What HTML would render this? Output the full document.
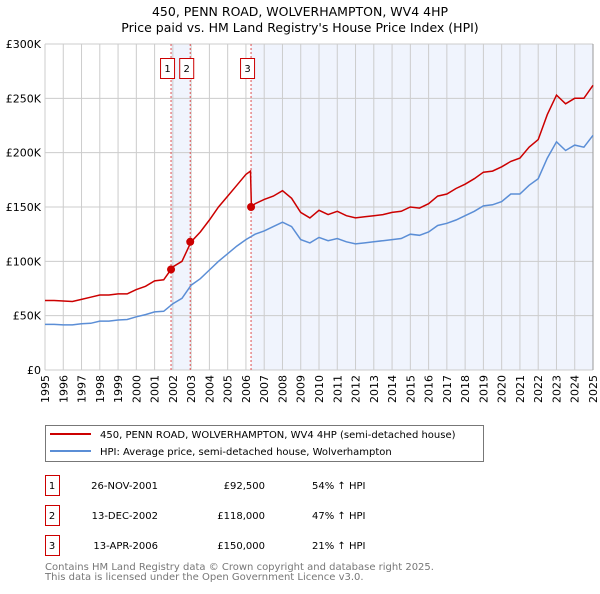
<!DOCTYPE html>
<html><head><meta charset="utf-8"><style>
body{margin:0;background:#fff;font-family:"DejaVu Sans","Liberation Sans",sans-serif;}
svg text{font-family:"DejaVu Sans","Liberation Sans",sans-serif;}
</style></head><body>
<svg id="c" width="600" height="590" xmlns="http://www.w3.org/2000/svg">
<text x="300" y="16" text-anchor="middle" font-size="12.5">450, PENN ROAD, WOLVERHAMPTON, WV4 4HP</text>
<text x="300" y="32" text-anchor="middle" font-size="12.5">Price paid vs. HM Land Registry's House Price Index (HPI)</text>
<g id="plot"></g>
<g>
<rect x="45.5" y="425.5" width="438" height="36" fill="#fff" stroke="#777"/>
<line x1="50" y1="434" x2="91" y2="434" stroke="#cc0000" stroke-width="2"/>
<text x="100" y="438" font-size="10">450, PENN ROAD, WOLVERHAMPTON, WV4 4HP (semi-detached house)</text>
<line x1="50" y1="451" x2="91" y2="451" stroke="#5b8ed6" stroke-width="2"/>
<text x="100" y="455" font-size="10">HPI: Average price, semi-detached house, Wolverhampton</text>
</g>
<g id="table" font-size="10"></g>
<text x="45" y="570" font-size="10" fill="#777">Contains HM Land Registry data © Crown copyright and database right 2025.</text>
<text x="45" y="580" font-size="10" fill="#777">This data is licensed under the Open Government Licence v3.0.</text>
</svg>
<script>
const hpiYears=[1995,1995.5,1996,1996.5,1997,1997.5,1998,1998.5,1999,1999.5,2000,2000.5,2001,2001.5,2002,2002.5,2003,2003.5,2004,2004.5,2005,2005.5,2006,2006.5,2007,2007.5,2008,2008.5,2009,2009.5,2010,2010.5,2011,2011.5,2012,2012.5,2013,2013.5,2014,2014.5,2015,2015.5,2016,2016.5,2017,2017.5,2018,2018.5,2019,2019.5,2020,2020.5,2021,2021.5,2022,2022.5,2023,2023.5,2024,2024.5,2025];
const hpiValues=[42,42,41.5,41.5,42.5,43,45,45,46,46.5,49,51,53.5,54,61,66,78,84,92,100,107,114,120,125,128,132,136,132,120,117,122,119,121,118,116,117,118,119,120,121,125,124,127,133,135,138,142,146,151,152,155,162,162,170,176,195,210,202,207,205,216];
const redYears=[1995,1995.5,1996,1996.5,1997,1997.5,1998,1998.5,1999,1999.5,2000,2000.5,2001,2001.5,2002,2002.5,2003,2003.5,2004,2004.5,2005,2005.5,2006,2006.25,2006.3,2006.5,2007,2007.5,2008,2008.5,2009,2009.5,2010,2010.5,2011,2011.5,2012,2012.5,2013,2013.5,2014,2014.5,2015,2015.5,2016,2016.5,2017,2017.5,2018,2018.5,2019,2019.5,2020,2020.5,2021,2021.5,2022,2022.5,2023,2023.5,2024,2024.5,2025];
const redValues=[64,64,63.5,63,65,67,69,69,70,70,74,77,82,83,95,100,118,127,138,150,160,170,180,183,150,153,157,160,165,158,145,140,147,143,146,142,140,141,142,143,145,146,150,149,153,160,162,167,171,176,182,183,187,192,195,205,212,235,253,245,250,250,262];
const saleLabels=["1","2","3"];
const saleYears=[2001.9,2002.95,2006.28];
const salePrices=[92.5,118,150];
const saleDates=["26-NOV-2001","13-DEC-2002","13-APR-2006"];
const salePriceText=["£92,500","£118,000","£150,000"];
const saleHpiText=["54% ↑ HPI","47% ↑ HPI","21% ↑ HPI"];
const yTicks=[0,50,100,150,200,250,300];
const yTickLabels=["£0","£50K","£100K","£150K","£200K","£250K","£300K"];
const xTicks=[1995,1996,1997,1998,1999,2000,2001,2002,2003,2004,2005,2006,2007,2008,2009,2010,2011,2012,2013,2014,2015,2016,2017,2018,2019,2020,2021,2022,2023,2024,2025];

const NS="http://www.w3.org/2000/svg";
const X0=45,X1=593,Y0=370,Y1=44;
const xs=y=>X0+(y-1995)/30*(X1-X0);
const ys=v=>Y0-v/300*(Y0-Y1);
const plot=document.getElementById('plot');
function mk(t,a,p){const e=document.createElementNS(NS,t);for(const k in a)e.setAttribute(k,a[k]);(p||plot).appendChild(e);return e;}
let s1=mk('rect',{x:xs(saleYears[0]),y:Y1,width:xs(saleYears[1])-xs(saleYears[0]),height:Y0-Y1,fill:'#f0f4fd'});


let s2=mk('rect',{x:xs(saleYears[2]),y:Y1,width:X1-xs(saleYears[2]),height:Y0-Y1,fill:'#f0f4fd'});


xTicks.forEach(t=>{
 let g=mk('line',{x1:xs(t),x2:xs(t),y1:Y1,y2:Y0,stroke:'#ccc'});
 
 
 let l=mk('text',{transform:`translate(${xs(t)+4},${Y0+5}) rotate(-90)`,'text-anchor':'end','font-size':11});
 l.textContent=t;
 
 
});
yTicks.forEach((t,i)=>{
 let g=mk('line',{x1:X0,x2:X1,y1:ys(t),y2:ys(t),stroke:'#ccc'});
 
 
 let l=mk('text',{x:X0-4,y:ys(t)+4,'text-anchor':'end','font-size':11});
 l.textContent=yTickLabels[i];
 
 
});
let edge=mk('line',{x1:X1,x2:X1,y1:Y1,y2:Y0,stroke:'#999'});


saleYears.forEach((y,i)=>{
 let l=mk('line',{x1:xs(y),x2:xs(y),y1:Y1,y2:Y0,stroke:'#e05050','stroke-dasharray':'2,2','stroke-width':1});
 
 
 let r=mk('rect',{x:xs(y)-10.5,y:58.5,width:14,height:20,fill:'#fff',stroke:'#cc0000'});
 
 
 let t=mk('text',{x:xs(y)-3.5,y:72,'text-anchor':'middle','font-size':10});
 t.textContent=saleLabels[i];
 
 
});
function path(yrs,vals,col,name){
 let d=yrs.map((y,i)=>(i?'L':'M')+xs(y).toFixed(1)+','+ys(vals[i]).toFixed(1)).join('');
 let p=mk('path',{d:d,fill:'none',stroke:col,'stroke-width':1.5});
 
 
}
path(hpiYears,hpiValues,'#5b8ed6','hpi-line');
path(redYears,redValues,'#cc0000','property-price-line');
saleYears.forEach((y,i)=>{
 let c=mk('circle',{cx:xs(y),cy:ys(salePrices[i]),r:4,fill:'#cc0000'});
 
 
});
const tb=document.getElementById('table');
saleLabels.forEach((s,i)=>{
 const y=475+i*30;
 let r=mk('rect',{x:45.5,y:y+0.5,width:14,height:20,fill:'#fff',stroke:'#cc0000'},tb);
 
 
 const cells=[[52,s,'middle'],[158,saleDates[i],'end'],[265,salePriceText[i],'end'],[312,saleHpiText[i],'start']];
 const names=['table-index','table-date','table-price','table-hpi'];
 cells.forEach((c,j)=>{
  let t=mk('text',{x:c[0],y:y+14,'text-anchor':c[2],'font-size':10},tb);
  t.textContent=c[1];
  
  
 });
});
</script>
</body></html>
